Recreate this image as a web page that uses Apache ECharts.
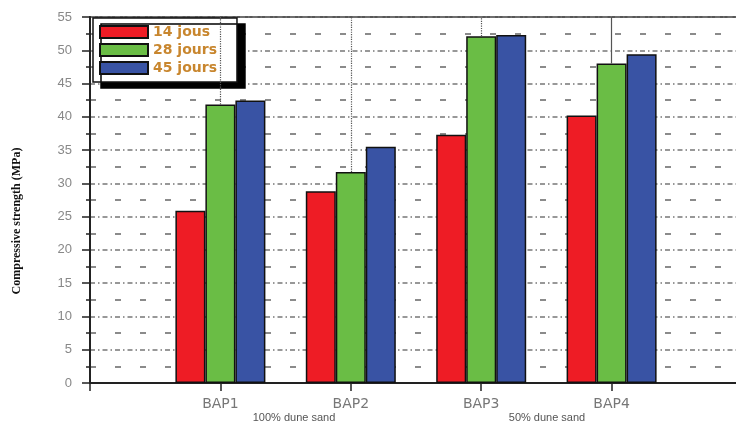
<!DOCTYPE html>
<html>
<head>
<meta charset="utf-8">
<script src="https://cdn.jsdelivr.net/npm/echarts@6/dist/echarts.min.js"></script>
<style>html,body{margin:0;padding:0;background:#fff}#c{width:736px;height:426px}</style>
</head>
<body>
<div id="c"></div>
<script>
var categories = ['', 'BAP1', 'BAP2', 'BAP3', 'BAP4', ''];
var seriesNames = ['14 jous', '28 jours', '45 jours'];
var days14 = [null, 25.9, 28.8, 37.3, 40.2, null];
var days28 = [null, 41.85, 31.7, 52.1, 48.0, null];
var days45 = [null, 42.45, 35.5, 52.3, 49.4, null];
var yTicks = [0, 5, 10, 15, 20, 25, 30, 35, 40, 45, 50, 55];
var groupNotes = ['100% dune sand', '50% dune sand'];
var yName = 'Compressive strength (MPa)';

var yMax = yTicks[yTicks.length - 1];
var dropStyles = ['dotted', 'dotted', 'dotted', 'solid'];
var dropData = [];
for (var i = 1; i <= 4; i++) {
  dropData.push([
    {coord: [categories[i], days28[i]], lineStyle: {type: dropStyles[i - 1]}},
    {coord: [categories[i], yMax]}
  ]);
}

var chart = echarts.init(document.getElementById('c'));
var barBorder = {borderColor: '#111', borderWidth: 1.5};
chart.setOption({
  animation: false,
  backgroundColor: '#fff',
  grid: {left: 90, top: 17, right: -6, bottom: 43, outerBoundsMode: 'none', containLabel: false,
    show: true, borderColor: '#222', borderWidth: 1.5, backgroundColor: 'transparent'},
  legend: {
    orient: 'vertical', left: 93, top: 18,
    data: seriesNames,
    icon: 'rect',
    itemWidth: 48, itemHeight: 12, itemGap: 4,
    padding: [7, 20, 7, 6],
    backgroundColor: '#fff', borderColor: '#111', borderWidth: 1.5,
    shadowColor: '#000', shadowBlur: 0, shadowOffsetX: 8, shadowOffsetY: 6,
    textStyle: {color: '#c8862e', fontSize: 14, fontWeight: 'bold', fontFamily: 'DejaVu Sans'}
  },
  xAxis: {
    type: 'category', data: categories, boundaryGap: false,
    axisLine: {lineStyle: {color: '#222', width: 2}},
    axisTick: {show: true, length: 8, lineStyle: {color: '#222', width: 1.5}},
    axisLabel: {color: '#777', fontSize: 14, fontFamily: 'DejaVu Sans', margin: 14},
    splitLine: {show: false}
  },
  yAxis: {
    type: 'value', min: 0, max: yMax, interval: 5,
    axisLine: {show: true, lineStyle: {color: '#222', width: 2}},
    axisTick: {show: true, length: 8, lineStyle: {color: '#222', width: 1.5}},
    minorTick: {show: true, splitNumber: 2, length: 4, lineStyle: {color: '#222', width: 1.5}},
    axisLabel: {color: '#888', fontSize: 13, fontFamily: 'Liberation Sans', margin: 18,
      formatter: function (v) { return yTicks.indexOf(v) >= 0 ? String(v) : ''; }},
    splitLine: {show: true, lineStyle: {color: '#777', width: 1.5, type: [5, 3, 1.5, 3]}},
    minorSplitLine: {show: true, lineStyle: {color: '#666', width: 1.5, type: [6, 19]}}
  },
  series: [
    {name: seriesNames[0], type: 'bar', data: days14, barWidth: 30, barGap: '0%',
      itemStyle: Object.assign({color: '#ee1c25'}, barBorder)},
    {name: seriesNames[1], type: 'bar', data: days28, barWidth: 30, barGap: '0%',
      itemStyle: Object.assign({color: '#6abd45'}, barBorder),
      markLine: {silent: true, symbol: 'none', label: {show: false},
        lineStyle: {color: '#555', width: 1.2}, data: dropData}},
    {name: seriesNames[2], type: 'bar', data: days45, barWidth: 30, barGap: '0%',
      itemStyle: Object.assign({color: '#3953a4'}, barBorder)}
  ],
  graphic: [
    {type: 'text', x: 17, y: 221, rotation: Math.PI / 2,
      style: {text: yName, font: 'bold 12px "Liberation Serif"', fill: '#111', align: 'center', verticalAlign: 'middle'}},
    {type: 'text', x: 294, y: 418, style: {text: groupNotes[0], font: '11px "Liberation Sans Narrow", "Liberation Sans"', fill: '#555', align: 'center', verticalAlign: 'middle'}},
    {type: 'text', x: 547, y: 418, style: {text: groupNotes[1], font: '11px "Liberation Sans Narrow", "Liberation Sans"', fill: '#555', align: 'center', verticalAlign: 'middle'}}
  ]
});
</script>
</body>
</html>
